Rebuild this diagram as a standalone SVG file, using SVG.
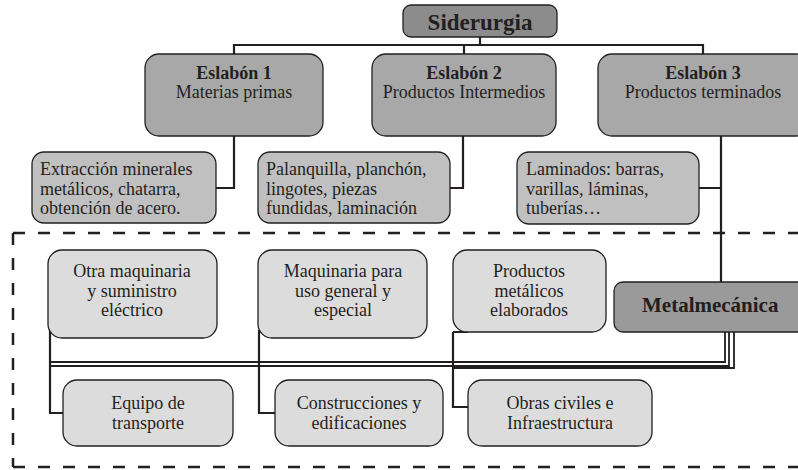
<svg xmlns="http://www.w3.org/2000/svg" width="798" height="470" viewBox="0 0 798 470">
<style>
text{font-family:"Liberation Serif","Times New Roman",serif;fill:#231f20}
.t{font-size:18px}
.b{font-weight:bold}
.c{text-anchor:middle}
.box{stroke:#231f20;stroke-width:1.3}
.top{fill:#8c8c8c}
.esl{fill:#a8a8a8}
.det{fill:#c0c0c0}
.lt{fill:#dcdcdc}
.met{fill:#9a9a9a}
.ln{fill:none;stroke:#231f20;stroke-width:2.2}
.ln2{fill:none;stroke:#231f20;stroke-width:1.8}
</style>
<rect width="798" height="470" fill="#fff"/>
<g id="frame">
<path d="M13,233 H810" fill="none" stroke="#231f20" stroke-width="2.5" stroke-dasharray="12 13"/>
<path d="M13,467 H810" fill="none" stroke="#231f20" stroke-width="2.5" stroke-dasharray="12 13"/>
<path d="M13,233 V467" fill="none" stroke="#231f20" stroke-width="2.5" stroke-dasharray="12 13"/>
</g>
<g id="connectors">
<path class="ln" d="M480,37 V45 M234,54 V45 H703 V54 M464,45 V54"/>
<path class="ln" d="M234,136 V188 H216"/>
<path class="ln" d="M463,136 V188 H450"/>
<path class="ln" d="M721,136 V282 M721,188 H699"/>
<path class="ln2" d="M725,332 V362 H50"/>
<path class="ln2" d="M729,332 V366 H50"/>
<path class="ln2" d="M734,332 V368 H453"/>
<path class="ln" d="M50,330 V413 H63"/>
<path class="ln" d="M259,330 V413 H275"/>
<path class="ln" d="M453,332 V407 H468 M453,332 H468"/>
</g>
<g id="siderurgia">
<rect class="box top" x="403" y="5" width="154" height="32" rx="8"/>
<text class="b c" x="480" y="30" font-size="23">Siderurgia</text>
</g>
<g id="eslabon1">
<rect class="box esl" x="145" y="54" width="178" height="82" rx="14"/>
<text class="t b c" x="234" y="79">Eslabón 1</text>
<text class="t c" x="234" y="98">Materias primas</text>
</g>
<g id="eslabon2">
<rect class="box esl" x="372" y="54" width="184" height="82" rx="14"/>
<text class="t b c" x="464" y="79">Eslabón 2</text>
<text class="t c" x="464" y="98">Productos Intermedios</text>
</g>
<g id="eslabon3">
<rect class="box esl" x="598" y="54" width="212" height="82" rx="14"/>
<text class="t b c" x="703" y="79">Eslabón 3</text>
<text class="t c" x="703" y="98">Productos terminados</text>
</g>
<g id="detalle1">
<rect class="box det" x="32" y="152" width="184" height="71" rx="12"/>
<text class="t" x="40" y="175">Extracción minerales</text>
<text class="t" x="40" y="194.5">metálicos, chatarra,</text>
<text class="t" x="40" y="214">obtención de acero.</text>
</g>
<g id="detalle2">
<rect class="box det" x="258" y="152" width="192" height="71" rx="12"/>
<text class="t" x="266" y="175">Palanquilla, planchón,</text>
<text class="t" x="266" y="194.5">lingotes, piezas</text>
<text class="t" x="266" y="214">fundidas, laminación</text>
</g>
<g id="detalle3">
<rect class="box det" x="517" y="152" width="182" height="72" rx="12"/>
<text class="t" x="526" y="175">Laminados: barras,</text>
<text class="t" x="526" y="194.5">varillas, láminas,</text>
<text class="t" x="526" y="214">tuberías…</text>
</g>
<g id="otra-maquinaria">
<rect class="box lt" x="48" y="250" width="169" height="88" rx="14"/>
<text class="t c" x="132" y="277">Otra maquinaria</text>
<text class="t c" x="132" y="296.5">y suministro</text>
<text class="t c" x="132" y="316">eléctrico</text>
</g>
<g id="maquinaria-general">
<rect class="box lt" x="258" y="250" width="169" height="88" rx="14"/>
<text class="t c" x="343" y="277">Maquinaria para</text>
<text class="t c" x="343" y="296.5">uso general y</text>
<text class="t c" x="343" y="316">especial</text>
</g>
<g id="productos-metalicos">
<rect class="box lt" x="453" y="250" width="153" height="82" rx="14"/>
<text class="t c" x="529" y="277">Productos</text>
<text class="t c" x="529" y="296.5">metálicos</text>
<text class="t c" x="529" y="316">elaborados</text>
</g>
<g id="metalmecanica">
<rect class="box met" x="614" y="282" width="196" height="50" rx="9"/>
<text class="b" x="642" y="312" font-size="21">Metalmecánica</text>
</g>
<g id="equipo-transporte">
<rect class="box lt" x="63" y="380" width="170" height="66" rx="14"/>
<text class="t c" x="148" y="409">Equipo de</text>
<text class="t c" x="148" y="429">transporte</text>
</g>
<g id="construcciones">
<rect class="box lt" x="275" y="380" width="168" height="66" rx="14"/>
<text class="t c" x="359" y="409">Construcciones y</text>
<text class="t c" x="359" y="429">edificaciones</text>
</g>
<g id="obras-civiles">
<rect class="box lt" x="468" y="380" width="184" height="66" rx="14"/>
<text class="t c" x="560" y="409">Obras civiles e</text>
<text class="t c" x="560" y="429">Infraestructura</text>
</g>
</svg>
